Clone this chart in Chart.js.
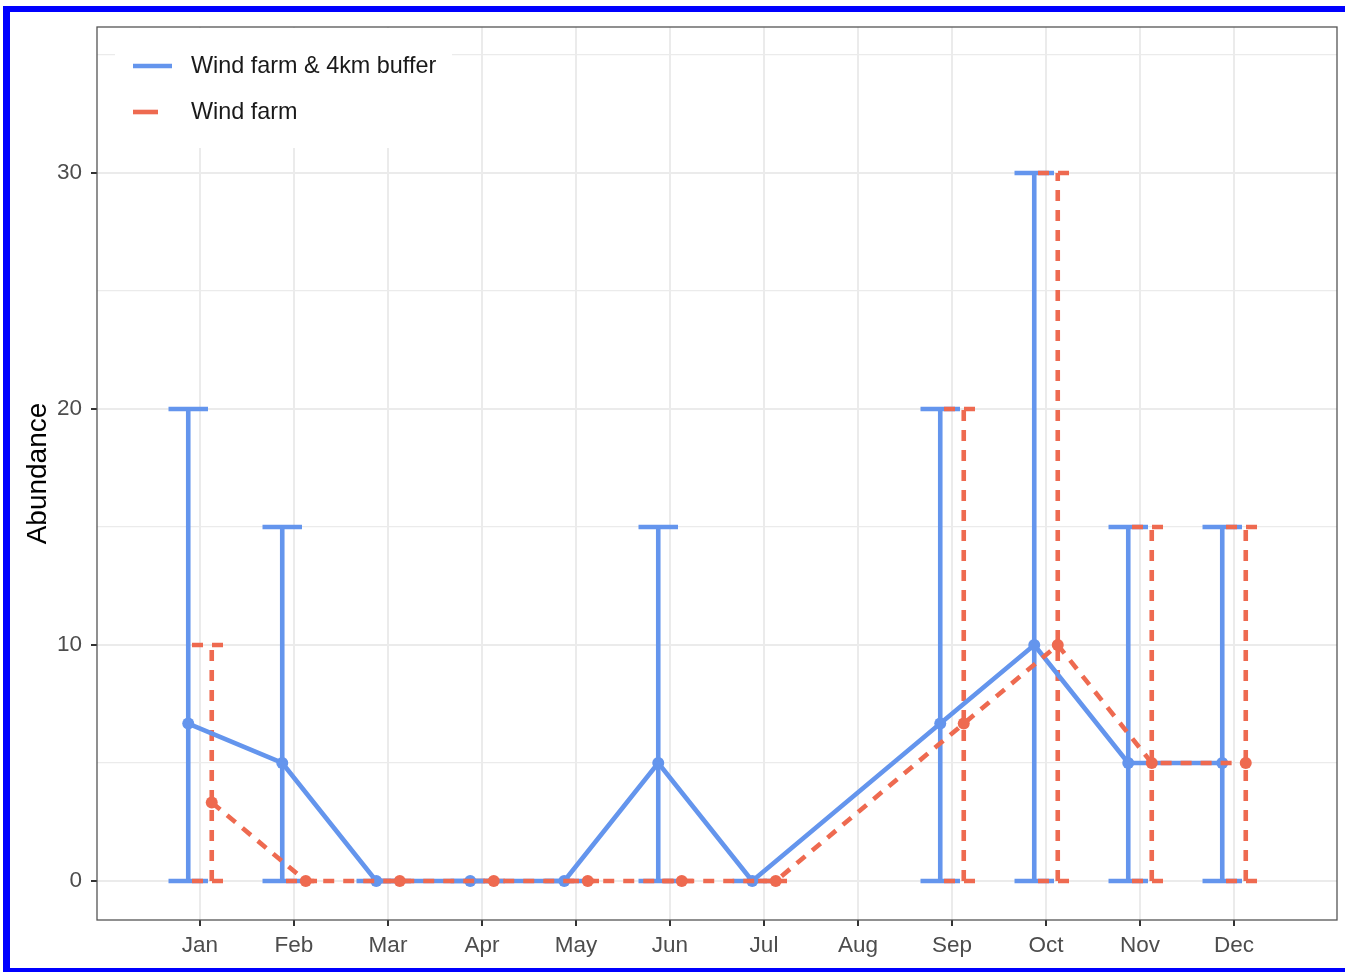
<!DOCTYPE html>
<html>
<head>
<meta charset="utf-8">
<script src="https://cdn.jsdelivr.net/npm/chart.js@4.4.1/dist/chart.umd.min.js"></script>
<style>
  body { margin: 0; background: #fff; overflow: hidden; }
  #wrap { position: absolute; left: 0; top: 0; width: 1345px; height: 972px; }
  #frame {
    position: absolute; left: 3px; top: 6px; width: 1400px; height: 956px;
    border-top: 6px solid #0000ff; border-left: 7px solid #0000ff; border-bottom: 6px solid #0000ff;
    pointer-events: none;
  }
</style>
</head>
<body>
<div id="wrap">
  <canvas id="chart" width="1345" height="972"></canvas>
  <div id="frame"></div>
</div>
<script>
const months = ['Jan', 'Feb', 'Mar', 'Apr', 'May', 'Jun', 'Jul', 'Aug', 'Sep', 'Oct', 'Nov', 'Dec'];
const yTicks = [0, 10, 20, 30];

// Wind farm & 4km buffer (no survey in Aug)
const bufferMean = [6.67, 5, 0, 0, 0, 5, 0, null, 6.67, 10, 5, 5];
const bufferLow  = [0, 0, 0, 0, 0, 0, 0, null, 0, 0, 0, 0];
const bufferHigh = [20, 15, 0, 0, 0, 15, 0, null, 20, 30, 15, 15];

// Wind farm only
const farmMean = [3.33, 0, 0, 0, 0, 0, 0, null, 6.67, 10, 5, 5];
const farmLow  = [0, 0, 0, 0, 0, 0, 0, null, 0, 0, 0, 0];
const farmHigh = [10, 0, 0, 0, 0, 0, 0, null, 20, 30, 15, 15];

const BLUE = '#6495ED';
const RED = '#EE6A50';
const FONT = '"Liberation Sans", Arial, sans-serif';
const dodge = 0.125;
const capHalf = 0.21;
const LW = 4.6;

function meanPoints(mean, shift) {
  let pts = [];
  for (let i = 0; i < mean.length; i++) {
    if (mean[i] === null) continue;
    pts.push({ x: i + shift, y: mean[i] });
  }
  return pts;
}

// errorbars as broken line paths: low cap, stem, high cap
function errorPoints(low, high, shift) {
  let pts = [];
  for (let i = 0; i < low.length; i++) {
    if (low[i] === null) continue;
    const x = i + shift;
    pts.push({ x: x - capHalf, y: low[i] }, { x: x + capHalf, y: low[i] }, { x: x, y: null });
    pts.push({ x: x, y: low[i] }, { x: x, y: high[i] }, { x: x, y: null });
    pts.push({ x: x - capHalf, y: high[i] }, { x: x + capHalf, y: high[i] }, { x: x, y: null });
  }
  return pts;
}

const panelPlugin = {
  id: 'panel',
  afterDraw(chart) {
    const ctx = chart.ctx;
    const a = chart.chartArea;
    ctx.save();
    // legend inside the panel
    ctx.fillStyle = '#fff';
    ctx.fillRect(a.left + 18, a.top + 1, 337, 120);
    ctx.lineWidth = LW;
    ctx.lineCap = 'butt';
    ctx.strokeStyle = BLUE;
    ctx.beginPath();
    ctx.moveTo(a.left + 36, a.top + 39);
    ctx.lineTo(a.left + 75, a.top + 39);
    ctx.stroke();
    ctx.strokeStyle = RED;
    ctx.beginPath();
    ctx.moveTo(a.left + 36, a.top + 85);
    ctx.lineTo(a.left + 61, a.top + 85);
    ctx.stroke();
    ctx.fillStyle = '#1a1a1a';
    ctx.font = '23.4px ' + FONT;
    ctx.textBaseline = 'middle';
    ctx.fillText('Wind farm & 4km buffer', a.left + 94, a.top + 40);
    ctx.fillText('Wind farm', a.left + 94, a.top + 86);
    // panel border
    ctx.strokeStyle = '#555';
    ctx.lineWidth = 1.3;
    ctx.strokeRect(a.left, a.top, a.right - a.left, a.bottom - a.top);
    ctx.restore();
  }
};

new Chart(document.getElementById('chart'), {
  type: 'line',
  data: {
    datasets: [
      {
        label: 'buffer errorbars',
        data: errorPoints(bufferLow, bufferHigh, -dodge),
        borderColor: BLUE, borderWidth: LW, pointRadius: 0,
        spanGaps: false, borderCapStyle: 'butt', order: 4
      },
      {
        label: 'farm errorbars',
        data: errorPoints(farmLow, farmHigh, dodge),
        borderColor: RED, borderWidth: LW, pointRadius: 0, borderDash: [11, 9],
        spanGaps: false, borderCapStyle: 'butt', order: 3
      },
      {
        label: 'Wind farm & 4km buffer',
        data: meanPoints(bufferMean, -dodge),
        borderColor: BLUE, borderWidth: LW, borderJoinStyle: 'round',
        pointRadius: 6, pointBackgroundColor: BLUE, pointBorderWidth: 0, order: 2
      },
      {
        label: 'Wind farm',
        data: meanPoints(farmMean, dodge),
        borderColor: RED, borderWidth: LW, borderDash: [11, 9],
        pointRadius: 6, pointBackgroundColor: RED, pointBorderWidth: 0, order: 1
      }
    ]
  },
  options: {
    responsive: false,
    animation: false,
    layout: { padding: { top: 27, right: 8, left: 0, bottom: 0 } },
    plugins: { legend: { display: false }, tooltip: { enabled: false } },
    elements: { line: { tension: 0 } },
    scales: {
      x: {
        type: 'linear',
        min: -1.0957,
        max: 12.0957,
        afterBuildTicks: (scale) => { scale.ticks = months.map((m, i) => ({ value: i })); },
        afterFit: (scale) => { scale.height = 52; },
        ticks: {
          autoSkip: false, maxRotation: 0, padding: 6,
          color: '#4d4d4d', font: { family: FONT, size: 22.5 },
          callback: (v) => months[v]
        },
        grid: { color: '#ebebeb', lineWidth: 2, tickLength: 6, tickColor: '#333', tickWidth: 2 },
        border: { display: false }
      },
      y: {
        type: 'linear',
        min: -1.653,
        max: 36.186,
        afterBuildTicks: (scale) => {
          scale.ticks = [0, 5, 10, 15, 20, 25, 30, 35].map(v => ({ value: v }));
        },
        afterFit: (scale) => { scale.width = 97; },
        ticks: {
          padding: 9, color: '#4d4d4d', font: { family: FONT, size: 22.5 },
          callback: (v) => yTicks.includes(v) ? String(v) : ''
        },
        grid: {
          color: '#ebebeb',
          lineWidth: (c) => (c.tick && c.tick.value % 10 === 0) ? 2 : 1.2,
          tickLength: 6,
          tickWidth: 2,
          tickColor: (c) => (c.tick && c.tick.value % 10 === 0) ? '#333' : 'rgba(0,0,0,0)'
        },
        border: { display: false },
        title: {
          display: true, text: 'Abundance', color: '#000',
          font: { family: FONT, size: 28 }, padding: { top: 21, bottom: 0 }
        }
      }
    }
  },
  plugins: [panelPlugin]
});
</script>
</body>
</html>
